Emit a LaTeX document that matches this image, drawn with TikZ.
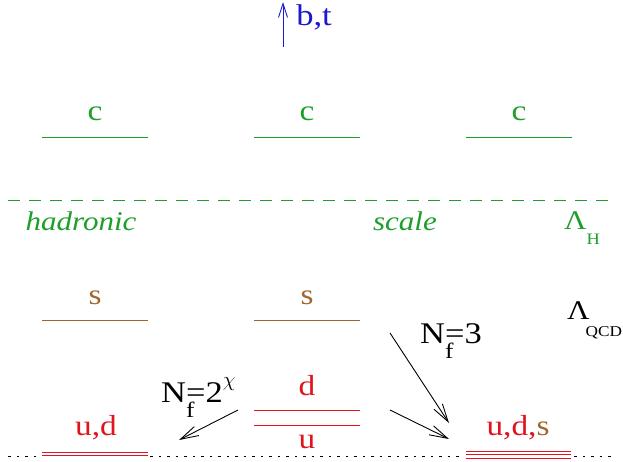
\documentclass[tikz,border=0pt]{standalone}
\usepackage{fontspec}
\setmainfont[FakeStretch=1.15]{Liberation Serif}
\usetikzlibrary{arrows.meta}
\definecolor{lvgreen}{HTML}{1E9E2A}
\definecolor{lvblue}{HTML}{1A1ACC}
\definecolor{lvbrown}{HTML}{A0662E}
\definecolor{lvred}{HTML}{E0141E}

\begin{document}
\begin{tikzpicture}[x=1pt,y=-1pt,
  lbl/.style={inner sep=0pt,font=\fontsize{29}{29}\selectfont},
  big/.style={inner sep=0pt,anchor=base west,font=\fontsize{30}{30}\selectfont},
  lvl/.style={line width=0.9pt},
  thr/.style={line width=0.8pt,dash pattern=on 2.5pt off 6pt},
  flow/.style={-{Straight Barb[length=18pt,width=10pt]},line width=0.9pt}]
  \useasboundingbox (0,0) rectangle (623,461);

  % heavy quarks far above
  \node[lbl,anchor=base,text=lvblue,font=\fontsize{30}{30}\selectfont] (bt) at (314,25){b,t};
  \coordinate (btfoot) at (283,47);
  \coordinate (bttop) at (283,2);
  \draw[-{Straight Barb[length=14pt,width=9pt]},lvblue,line width=0.9pt] (btfoot)--(bttop);

  % charm levels
  \foreach \x/\n in {95/1,307/2,519/3}{
    \draw[lvl,lvgreen] (\x-53,137)--(\x+53,137);
    \node[lbl,text=lvgreen] (c\n) at (\x,114){c};
  }

  % hadronic scale
  \draw[lvgreen,line width=0.9pt,dash pattern=on 12pt off 9pt] (8,200)--(614,200);
  \node[lbl,text=lvgreen,font=\fontsize{27}{27}\selectfont\itshape] (had) at (81,221){hadronic};
  \node[lbl,text=lvgreen,font=\fontsize{27}{27}\selectfont\itshape] (scl) at (405,221){scale};
  \node[big,text=lvgreen,font=\fontsize{27}{27}\selectfont] (lamh) at (564,229)
    {Λ\raisebox{-15pt}{\fontsize{16}{16}\selectfont H}};

  % strange levels
  \foreach \x/\n in {95/1,307/2}{
    \draw[lvl,lvbrown] (\x-53,320)--(\x+53,320);
    \node[lbl,text=lvbrown] (s\n) at (\x,298){s};
  }
  \node[big,font=\fontsize{27}{27}\selectfont] (lamq) at (567,319)
    {Λ\kern-4pt\raisebox{-17pt}{\fontsize{15}{15}\selectfont QCD}};

  % light quarks
  \draw[lvl,lvred] (254,410)--(360,410);
  \draw[lvl,lvred] (254,425)--(360,425);
  \node[lbl,text=lvred] (d) at (307,386){d};
  \node[lbl,text=lvred] (u) at (307,442){u};

  \node[lbl,anchor=base,text=lvred] (ud) at (96,435){u,d};
  \draw[lvl,lvred] (42,452)--(148,452);
  \draw[lvl,lvred] (42,455.5)--(148,455.5);

  \node[lbl,anchor=base] (uds) at (518,435){\textcolor{lvred}{u,d,}\textcolor{lvbrown}{s}};
  \draw[lvl,lvred] (466,451)--(571,451);
  \draw[lvl,lvred] (466,454.5)--(571,454.5);
  \draw[lvl,lvred] (466,458)--(571,458);

  % current quark threshold
  \draw[thr] (8,456)--(40,456);
  \draw[thr] (150,456)--(464,456);
  \draw[thr] (574,456)--(614,456);

  % flavour counting
  \node[big] (nf3) at (420,343)
    {N\rlap{\raisebox{-15pt}{\fontsize{22}{22}\selectfont f}}=3};
  \node[big] (nf2) at (161,402)
    {N\rlap{\raisebox{-15pt}{\fontsize{22}{22}\selectfont f}}=2\raisebox{16pt}{\fontsize{22}{22}\selectfont$\chi$}};
  \coordinate (a1) at (390,333);
  \coordinate (a2) at (390,410);
  \coordinate (a3) at (238,410);
  \coordinate (h1) at (449,423);
  \coordinate (h2) at (449,439);
  \coordinate (h3) at (179,440);
  \draw[flow] (a1)--(h1);
  \draw[flow] (a2)--(h2);
  \draw[flow] (a3)--(h3);
\end{tikzpicture}
\end{document}
